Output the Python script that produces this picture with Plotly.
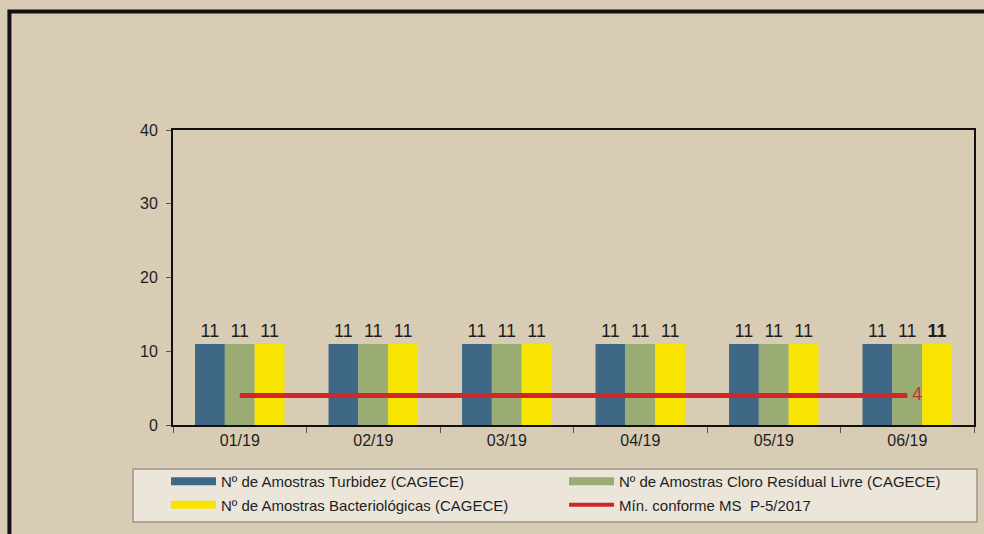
import plotly.graph_objects as go

months = ["01/19", "02/19", "03/19", "04/19", "05/19", "06/19"]
turbidez = [11, 11, 11, 11, 11, 11]
cloro = [11, 11, 11, 11, 11, 11]
bacterio = [11, 11, 11, 11, 11, 11]
minimo = [4, 4, 4, 4, 4, 4]
y_ticks = [0, 10, 20, 30, 40]

names = ["Nº de Amostras Turbidez (CAGECE)",
         "Nº de Amostras Cloro Resídual Livre (CAGECE)",
         "Nº de Amostras Bacteriológicas (CAGECE)",
         "Mín. conforme MS  P-5/2017"]
colors = ["#3e6885", "#9aab73", "#f7e400", "#d1262b"]

BG = "#d9ccb5"
FONT = "Liberation Sans, Arial, sans-serif"
NARROW = "Liberation Sans Narrow, Arial Narrow, Liberation Sans, sans-serif"

fig = go.Figure()
series = [turbidez, cloro, bacterio]
for i, vals in enumerate(series):
    texts = [str(v) for v in vals]
    if i == 2:
        texts[-1] = "<b>" + str(vals[-1]) + "</b>"
    fig.add_trace(go.Bar(
        x=months, y=vals, marker=dict(color=colors[i], line=dict(width=0)),
        text=texts, textposition="outside", cliponaxis=False,
        textfont=dict(size=18, color="#1e1e1e", family=FONT),
        showlegend=False, name=names[i]))

mtext = [""] * (len(minimo) - 1) + ["&nbsp;" + str(minimo[-1])]
fig.add_trace(go.Scatter(
    x=months, y=minimo, mode="lines+text", text=mtext,
    textposition="middle right", cliponaxis=False,
    textfont=dict(size=18, color="#c8302c", family=FONT),
    line=dict(color=colors[3], width=5), showlegend=False, name=names[3]))

# legend proxies (wide swatches), two columns
legend_of = ["legend", "legend2", "legend", "legend2"]
for i in range(4):
    fig.add_trace(go.Scatter(
        x=[None], y=[None], mode="lines", name=names[i],
        legend=legend_of[i], legendgroup="g%d" % i,
        line=dict(color=colors[i], width=8 if i < 3 else 4), showlegend=True))

L, R, T, B = 173, 8, 130, 109
W, H = 984, 534
pw, ph = W - L - R, H - T - B
def px(x):
    return (x - L) / pw
def py(y):
    return (H - B - y) / ph

shapes = [
    dict(type="rect", xref="paper", yref="paper", x0=px(9), x1=px(992), y0=py(545), y1=py(11.5),
         line=dict(color="#111111", width=4), fillcolor="rgba(0,0,0,0)", layer="below"),
    dict(type="rect", xref="paper", yref="paper", x0=px(133), x1=px(979), y0=py(522), y1=py(469),
         line=dict(color="#9a958d", width=1.5), fillcolor="#ebe5da", layer="below"),
]

leg_common = dict(orientation="v", xanchor="left", yanchor="top", itemwidth=45,
                  bgcolor="rgba(0,0,0,0)", borderwidth=0, tracegroupgap=1,
                  font=dict(family=NARROW, size=15, color="#1e1e1e"))

fig.update_layout(
    width=W, height=H,
    margin=dict(l=L, r=R, t=T, b=B),
    paper_bgcolor=BG, plot_bgcolor=BG,
    barmode="group", bargap=0.33, bargroupgap=0,
    shapes=shapes,
    font=dict(family=FONT, color="#1e1e1e"),
    showlegend=True,
    legend=dict(x=px(166), y=py(465), **leg_common),
    legend2=dict(x=px(565), y=py(465), **leg_common),
    xaxis=dict(showline=True, linecolor="#111111", linewidth=2, mirror=True,
               ticks="outside", tickson="boundaries", ticklen=6, tickcolor="#555555",
               tickfont=dict(size=16, color="#1e1e1e"), showgrid=False),
    yaxis=dict(range=[0, 40], tickvals=y_ticks, showline=True, linecolor="#111111",
               linewidth=2, mirror=True, ticks="outside", ticklen=5, tickcolor="#555555",
               ticklabelstandoff=5,
               tickfont=dict(size=16, color="#1e1e1e"), showgrid=False, zeroline=False),
)

fig.write_html("out.html", config={"displayModeBar": False},
               post_script="document.body.style.margin='0';document.body.style.padding='0';"
                           "document.body.style.overflow='hidden';")
